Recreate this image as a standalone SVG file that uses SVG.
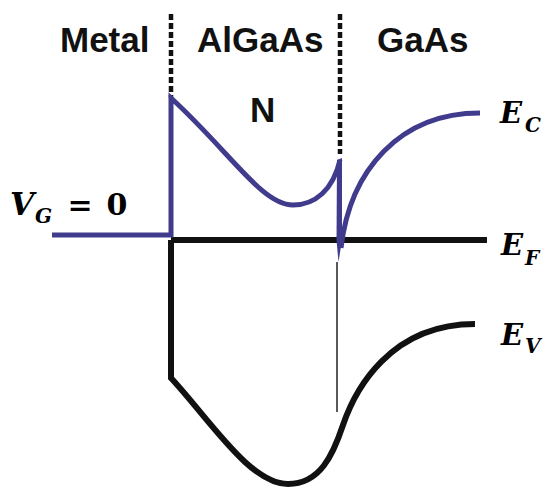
<svg xmlns="http://www.w3.org/2000/svg" width="545" height="489" viewBox="0 0 545 489">
<style>
.hd{font-family:"Liberation Sans",Arial,sans-serif;font-weight:bold;font-size:35px;fill:#111}
.m{font-family:"DejaVu Serif","Liberation Serif",serif;font-weight:bold;font-style:italic;fill:#000}
.mu{font-family:"DejaVu Serif","Liberation Serif",serif;font-weight:bold;fill:#000}
.dash{stroke:#111;stroke-width:4.5;stroke-dasharray:6 3;fill:none}
.cb{stroke:#403b8c;stroke-width:5;fill:none;stroke-linejoin:miter}
.vb{stroke:#111;stroke-width:6;fill:none}
</style>
<rect width="545" height="489" fill="#fff"/>
<g id="labels">
<text class="hd" x="60" y="52">Metal</text>
<text class="hd" x="197" y="52">AlGaAs</text>
<text class="hd" x="377" y="52">GaAs</text>
<text class="hd" x="250" y="122">N</text>
</g>
<g id="connectors">
<line class="dash" x1="171" y1="14" x2="171" y2="98"/>
<line class="dash" x1="340" y1="14" x2="340" y2="154"/>
<line x1="337" y1="262" x2="337" y2="412" stroke="#222" stroke-width="1.5"/>
</g>
<g id="valence-band">
<path class="vb" d="M171,240 V378 C210,420 250,484 288,484 C320,484 333,455 343,425 C355,390 390,324 475,324"/>
</g>
<g id="fermi-level">
<line class="vb" x1="171" y1="240" x2="487" y2="240"/>
</g>
<g id="conduction-band">
<path class="cb" d="M52,235 H171 V98 C230,152 262,205 293,205 C315,205 333,190 340,160"/>
<path d="M337,160 L342,158 L342,240 L338.5,262 L336.5,240 Z" fill="#403b8c"/>
<path class="cb" d="M341,248 C350,170 400,113 480,113"/>
</g>
<g id="ec-label">
<text class="m" x="500" y="123" font-size="29">E</text>
<text class="m" x="525" y="132" font-size="20">C</text>
</g>
<g id="ef-label">
<text class="m" x="501" y="255" font-size="29">E</text>
<text class="m" x="525" y="265" font-size="20">F</text>
</g>
<g id="ev-label">
<text class="m" x="501" y="345" font-size="29">E</text>
<text class="m" x="525" y="353" font-size="20">V</text>
</g>
<g id="vg-label">
<text class="m" x="10" y="215" font-size="31">V</text>
<text class="m" x="35" y="223" font-size="20">G</text>
<text class="mu" x="80" y="215" font-size="30" text-anchor="middle">=</text>
<text class="mu" x="117" y="215" font-size="30" text-anchor="middle">0</text>
</g>
</svg>
